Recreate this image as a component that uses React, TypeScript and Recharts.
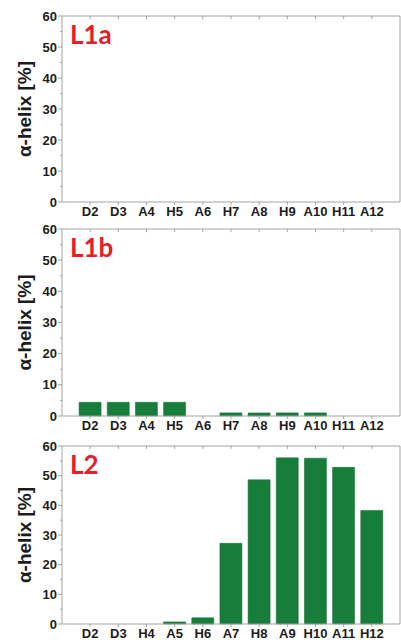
import React from 'react';
import { Bar, BarChart, ReferenceLine, XAxis, YAxis } from 'recharts';

const catsL1 = ['D2', 'D3', 'A4', 'H5', 'A6', 'H7', 'A8', 'H9', 'A10', 'H11', 'A12'];
const catsL2 = ['D2', 'D3', 'H4', 'A5', 'H6', 'A7', 'H8', 'A9', 'H10', 'A11', 'H12'];

const helixL1a = [0, 0, 0, 0, 0, 0, 0, 0, 0, 0, 0];
const helixL1b = [4.4, 4.4, 4.4, 4.4, 0, 1, 1, 1, 1, 0, 0];
const helixL2 = [0, 0, 0, 0.7, 2.1, 27.2, 48.6, 56, 55.9, 52.8, 38.3];

const yTicks = [0, 5, 10, 15, 20, 25, 30, 35, 40, 45, 50, 55, 60];
const xTicks = [2, 3, 4, 5, 6, 7, 8, 9, 10, 11, 12];

const AXIS = '#a3a3a3';
const TXT = '#1c1c1c';
const GREEN = '#177d3b';
const FONT = '"Liberation Sans", Arial, sans-serif';

const YTick = (props: any) => {
  const { x, y, payload } = props;
  const v = payload.value;
  const axisX = x + 6;
  const major = v % 10 === 0;
  return (
    <g>
      <line x1={axisX - (major ? 4 : 2)} x2={axisX} y1={y} y2={y} stroke={AXIS} />
      {major && (
        <text x={x + 1} y={y} textAnchor='end' dominantBaseline='central' fill={TXT}
          fontSize={13} fontWeight='bold' fontFamily={FONT}>
          {v}
        </text>
      )}
    </g>
  );
};

const YLabel = (props: any) => {
  const { viewBox } = props;
  const cy = viewBox.y + viewBox.height / 2;
  return (
    <text x={24} y={cy} transform={`rotate(-90, 24, ${cy})`} textAnchor='middle'
      dominantBaseline='central' fill={TXT} fontSize={19} fontWeight='bold' fontFamily={FONT}>
      α-helix [%]
    </text>
  );
};

interface PanelProps {
  cats: string[];
  values: number[];
  name: string;
  top: number;
  height: number;
}

const Panel: React.FC<PanelProps> = ({ cats, values, name, top, height }) => {
  const data = cats.map((c, i) => ({ name: c, pos: i + 2, value: values[i] }));
  return (
    <div style={{ position: 'absolute', left: 0, top, width: 401, height }}>
      <BarChart width={401} height={height} data={data}
        margin={{ top: 16, right: 1, bottom: 0, left: 0 }}>
        <XAxis dataKey='pos' type='number' domain={[1, 13]} ticks={xTicks} interval={0}
          allowDataOverflow height={18} stroke={AXIS} tickSize={3} tickMargin={2}
          tickFormatter={(v) => cats[v - 2]}
          tick={{ fill: TXT, fontSize: 13, fontWeight: 'bold', fontFamily: FONT }} />
        <YAxis domain={[0, 60]} ticks={yTicks} interval={0} width={62} stroke={AXIS}
          tickLine={false} tickSize={4} tickMargin={2} tick={<YTick />}
          label={{ content: <YLabel /> }} />
        <ReferenceLine y={60} stroke={AXIS} />
        <ReferenceLine x={13} stroke={AXIS} />
        {xTicks.map((t) => (
          <ReferenceLine key={t} segment={[{ x: t, y: 60 }, { x: t, y: 59 }]} stroke={AXIS} />
        ))}
        <Bar dataKey='value' fill={GREEN} stroke='#0f6a30' strokeWidth={0.5} barSize={22}
          isAnimationActive={false} />
      </BarChart>
      <div style={{
        position: 'absolute', left: 70, top: 19, color: '#e3202a', fontFamily: 'Lato, sans-serif',
        fontWeight: 'bold', fontSize: 26, lineHeight: '30px',
      }}>
        {name}
      </div>
    </div>
  );
};

export default function App() {
  return (
    <div style={{ position: 'relative', width: 401, height: 643, background: '#fff' }}>
      <style>{'body{margin:0}'}</style>
      <Panel cats={catsL1} values={helixL1a} name='L1a' top={0} height={220} />
      <Panel cats={catsL1} values={helixL1b} name='L1b' top={213} height={221} />
      <Panel cats={catsL2} values={helixL2} name='L2' top={430} height={212} />
    </div>
  );
}
